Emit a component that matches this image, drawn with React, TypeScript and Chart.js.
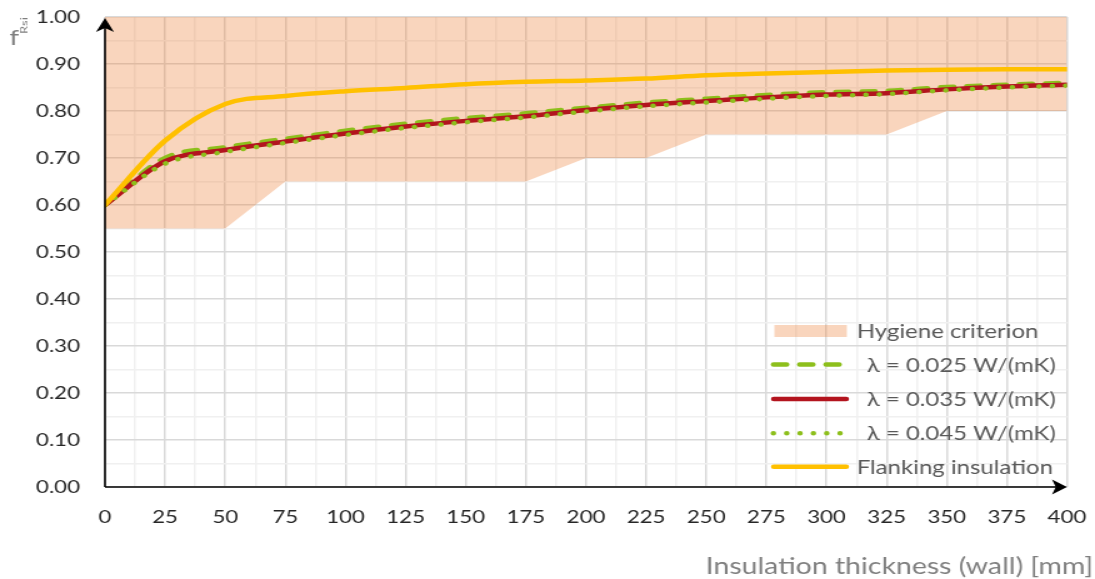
import React, { useEffect, useRef } from "react";
import { Chart, registerables } from "chart.js";

Chart.register(...registerables);

// ---------- data ----------
const thickness = [0, 25, 50, 75, 100, 125, 150, 175, 200, 225, 250, 275, 300, 325, 350, 375, 400];
const hygieneCriterion = [0.55, 0.55, 0.55, 0.65, 0.65, 0.65, 0.65, 0.65, 0.7, 0.7, 0.75, 0.75, 0.75, 0.75, 0.8, 0.8, 0.8];
const lambda025 = [0.6, 0.7, 0.723, 0.741, 0.758, 0.773, 0.785, 0.795, 0.807, 0.818, 0.826, 0.834, 0.84, 0.843, 0.851, 0.856, 0.86];
const lambda035 = [0.6, 0.693, 0.717, 0.735, 0.752, 0.767, 0.779, 0.789, 0.802, 0.813, 0.821, 0.829, 0.835, 0.838, 0.846, 0.852, 0.856];
const lambda045 = [0.6, 0.688, 0.713, 0.732, 0.749, 0.764, 0.776, 0.786, 0.799, 0.81, 0.818, 0.826, 0.832, 0.836, 0.844, 0.85, 0.854];
const flanking = [0.6, 0.737, 0.815, 0.832, 0.842, 0.849, 0.857, 0.862, 0.865, 0.869, 0.876, 0.88, 0.883, 0.886, 0.888, 0.889, 0.889];
const legendLabels = ["Hygiene criterion", "λ = 0.025 W/(mK)", "λ = 0.035 W/(mK)", "λ = 0.045 W/(mK)", "Flanking insulation"];
const xTitle = "Insulation thickness (wall) [mm]";
const yTitleMain = "f";
const yTitleSub = "Rsi";

// ---------- style ----------
const W = 1095;
const H = 579;
const STRETCH = 1.25;
const CW = W / STRETCH;
const PLOT_LEFT = 105 / STRETCH;
const PLOT_RIGHT = 1067 / STRETCH;
const PLOT_TOP = 17;
const PLOT_BOTTOM = 487;
const FONT = "Lato, 'Open Sans', sans-serif";
const GREEN = "#8DBF1C";
const RED = "#B3141E";
const YELLOW = "#FFC000";
const FILL = "rgba(237,125,49,0.32)";
const GRID_MAJOR = "#D9D9D9";
const GRID_MINOR = "#F0F0F0";
const LW = 4.5;

function fitSize(text: string, target: number): number {
  const c = document.createElement("canvas").getContext("2d")!;
  c.font = `100px ${FONT}`;
  return (100 * target) / c.measureText(text).width;
}

const pts = (ys: number[]) => thickness.map((x, i) => ({ x, y: ys[i] }));

const zeroPad = (s: any) => {
  s.paddingTop = 0;
  s.paddingBottom = 0;
  s.paddingLeft = 0;
  s.paddingRight = 0;
};

export default function App() {
  const ref = useRef<HTMLCanvasElement | null>(null);

  useEffect(() => {
    document.body.style.margin = "0";
    const canvas = ref.current!;
    const tickSize = fitSize("400", 31);
    const legendSize = fitSize("Flanking insulation", 157);
    const titleSize = fitSize(xTitle, 310);

    const overlay = {
      id: "overlay",
      afterDraw(chart: any) {
        const ctx: CanvasRenderingContext2D = chart.ctx;
        const { left, right, top, bottom } = chart.chartArea;
        ctx.save();
        // axes with arrow heads
        ctx.strokeStyle = "#000";
        ctx.fillStyle = "#000";
        ctx.lineWidth = 1.6;
        ctx.beginPath();
        ctx.moveTo(left, bottom);
        ctx.lineTo(right - 8, bottom);
        ctx.stroke();
        ctx.beginPath();
        ctx.moveTo(left, bottom);
        ctx.lineTo(left, top + 10);
        ctx.stroke();
        ctx.beginPath();
        ctx.moveTo(right, bottom);
        ctx.lineTo(right - 12, bottom - 7.5);
        ctx.lineTo(right - 9, bottom);
        ctx.lineTo(right - 12, bottom + 7.5);
        ctx.closePath();
        ctx.fill();
        ctx.beginPath();
        ctx.moveTo(left, top + 1);
        ctx.lineTo(left - 7.2, top + 15);
        ctx.lineTo(left, top + 11);
        ctx.lineTo(left + 7.2, top + 15);
        ctx.closePath();
        ctx.fill();

        // legend
        const symL = 617;
        const symR = 679;
        ctx.lineCap = "round";
        ctx.fillStyle = FILL;
        ctx.fillRect(619.5, 325, 58, 12);
        ctx.strokeStyle = GREEN;
        ctx.lineWidth = LW;
        ctx.setLineDash([10.5, 10.5]);
        ctx.beginPath();
        ctx.moveTo(618.8, 364.5);
        ctx.lineTo(672, 364.5);
        ctx.stroke();
        ctx.setLineDash([]);
        ctx.strokeStyle = RED;
        ctx.beginPath();
        ctx.moveTo(symL + 2, 399);
        ctx.lineTo(symR - 2, 399);
        ctx.stroke();
        ctx.strokeStyle = GREEN;
        ctx.setLineDash([0.01, 10.66]);
        ctx.beginPath();
        ctx.moveTo(618.7, 433.3);
        ctx.lineTo(674, 433.3);
        ctx.stroke();
        ctx.setLineDash([]);
        ctx.strokeStyle = YELLOW;
        ctx.beginPath();
        ctx.moveTo(symL + 2, 466.7);
        ctx.lineTo(symR - 2, 466.7);
        ctx.stroke();

        ctx.fillStyle = "#595959";
        ctx.font = `${legendSize}px ${FONT}`;
        ctx.textAlign = "left";
        ctx.textBaseline = "alphabetic";
        const baselines = [337.5, 371.5, 405.8, 440, 473.5];
        const textX = [685.4, 693.4, 693.4, 693.4, 685.4];
        legendLabels.forEach((t, i) => ctx.fillText(t, textX[i], baselines[i]));

        // x axis title
        ctx.fillStyle = "#7F7F7F";
        ctx.font = `${titleSize}px ${FONT}`;
        ctx.textAlign = "right";
        ctx.fillText(xTitle, 874.4, 573.5);

        // y axis title f_Rsi
        ctx.fillStyle = "#7F7F7F";
        ctx.textAlign = "left";
        ctx.font = `22px ${FONT}`;
        ctx.fillText(yTitleMain, 7.5, 45);
        ctx.save();
        ctx.translate(22, 34);
        ctx.rotate(-Math.PI / 2);
        ctx.scale(1, 0.55);
        ctx.font = `13px ${FONT}`;
        ctx.fillText(yTitleSub, 0, 0);
        ctx.restore();

        ctx.restore();
      },
    };

    const lineBase = {
      pointRadius: 0,
      pointHoverRadius: 0,
      fill: false,
      borderWidth: LW,
      cubicInterpolationMode: "monotone" as const,
      borderCapStyle: "round" as const,
      borderJoinStyle: "round" as const,
    };

    const chart: any = new Chart(canvas, {
      type: "line",
      data: {
        datasets: [
          { ...lineBase, label: legendLabels[4], data: pts(flanking), borderColor: YELLOW, order: 0 },
          { ...lineBase, label: legendLabels[3], data: pts(lambda045), borderColor: GREEN, borderDash: [0.01, 10.66], order: 1 },
          { ...lineBase, label: legendLabels[2], data: pts(lambda035), borderColor: RED, order: 2 },
          { ...lineBase, label: legendLabels[1], data: pts(lambda025), borderColor: GREEN, borderDash: [10.5, 10.5], order: 3 },
          {
            label: legendLabels[0],
            data: pts(hygieneCriterion),
            fill: "end",
            backgroundColor: FILL,
            borderWidth: 0,
            borderColor: "rgba(0,0,0,0)",
            pointRadius: 0,
            tension: 0,
            order: 4,
          },
        ],
      },
      options: {
        responsive: false,
        animation: false,
        layout: { padding: { top: PLOT_TOP, right: CW - PLOT_RIGHT, bottom: 0, left: 0 } },
        plugins: { legend: { display: false }, tooltip: { enabled: false } },
        scales: {
          x: {
            type: "linear",
            min: 0,
            max: 400,
            border: { display: false },
            grid: {
              drawTicks: false,
              lineWidth: 1.5,
              color: (c: any) => (Math.abs(c.tick.value % 25) < 1e-6 ? GRID_MAJOR : GRID_MINOR),
            },
            ticks: {
              stepSize: 12.5,
              autoSkip: false,
              maxRotation: 0,
              padding: 20,
              color: "#262626",
              font: { family: FONT, size: tickSize },
              callback: (v: any) => (Math.abs(Number(v) % 25) < 1e-6 ? String(v) : ""),
            },
            afterFit: (s: any) => {
              s.height = H - PLOT_BOTTOM;
              zeroPad(s);
            },
          },
          y: {
            type: "linear",
            min: 0,
            max: 1,
            border: { display: false },
            grid: {
              drawTicks: false,
              lineWidth: 1.5,
              color: (c: any) => (Math.round(c.tick.value * 100) % 10 === 0 ? GRID_MAJOR : GRID_MINOR),
            },
            ticks: {
              stepSize: 0.05,
              autoSkip: false,
              padding: 20,
              color: "#262626",
              font: { family: FONT, size: tickSize },
              callback: (v: any) => (Math.round(Number(v) * 100) % 10 === 0 ? Number(v).toFixed(2) : ""),
            },
            afterFit: (s: any) => {
              s.width = PLOT_LEFT;
              zeroPad(s);
            },
          },
        },
      } as any,
      plugins: [overlay],
    });
    return () => chart.destroy();
  }, []);

  return (
    <div style={{ position: "absolute", left: 0, top: 0, width: W, height: H, overflow: "hidden", background: "#fff" }}>
      <div style={{ width: CW, height: H, transform: `scaleX(${STRETCH})`, transformOrigin: "0 0" }}>
        <canvas ref={ref} width={CW} height={H} style={{ display: "block" }} />
      </div>
    </div>
  );
}
